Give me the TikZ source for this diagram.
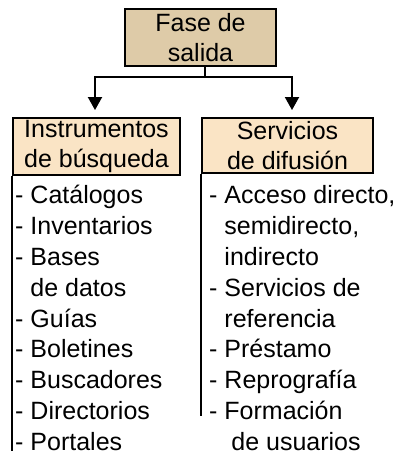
\documentclass[tikz,border=0pt]{standalone}
\usepackage{fontspec}
\setmainfont{Liberation Sans}
\usetikzlibrary{arrows.meta}

\definecolor{tanfill}{RGB}{222,203,168}
\definecolor{peach}{RGB}{250,228,197}

\tikzset{
  fase/.style={draw, line width=1.9pt, fill=peach, align=center, inner sep=0pt,
               font=\fontsize{25}{30}\selectfont},
  item/.style={anchor=base west, inner sep=0pt, font=\fontsize{25}{30}\selectfont},
  flecha/.style={line width=1.9pt, -{Triangle[width=14pt,length=13pt]}},
}

\begin{document}
\begin{tikzpicture}[x=1pt,y=-1pt]
  \useasboundingbox (0,0) rectangle (398,454);

  % cajas
  \node[fase, fill=tanfill, minimum width=151pt, minimum height=57pt] (salida) at (200.5,37.5) {Fase de\\salida};
  \node[fase, minimum width=167pt, minimum height=57pt] (instr) at (96.5,146.5) {Instrumentos\\de búsqueda};
  \node[fase, minimum width=171pt, minimum height=55pt] (serv) at (287.5,145.5) {Servicios\\de difusión};

  % flechas
  \coordinate (split) at (205,77);
  \draw[line width=1.9pt] (salida.south -| split) -- (split);
  \draw[flecha] (split) -| ([xshift=-1.5pt,yshift=7pt]instr.north);
  \draw[flecha] (split) -| ([xshift=4.5pt,yshift=7pt]serv.north);

  % listas
  \draw[line width=1.9pt] (instr.south west) -- ++(0,275);
  \draw[line width=1.9pt] (serv.south west) -- ++(0,242);

  \foreach \txt [count=\i from 0] in {- Catálogos, - Inventarios, - Bases, \phantom{- }de datos,
      - Guías, - Boletines, - Buscadores, - Directorios, - Portales}
    \node[item] (inst\i) at (15,{204+30.75*\i}) {\txt};

  \foreach \txt [count=\i from 0] in {{- Acceso directo,}, {\phantom{- }semidirecto,}, \phantom{- }indirecto,
      - Servicios de, \phantom{- }referencia, - Préstamo, - Reprografía, - Formación,
      \phantom{- } de usuarios}
    \node[item] (serv\i) at (209,{204+30.75*\i}) {\txt};
\end{tikzpicture}
\end{document}
